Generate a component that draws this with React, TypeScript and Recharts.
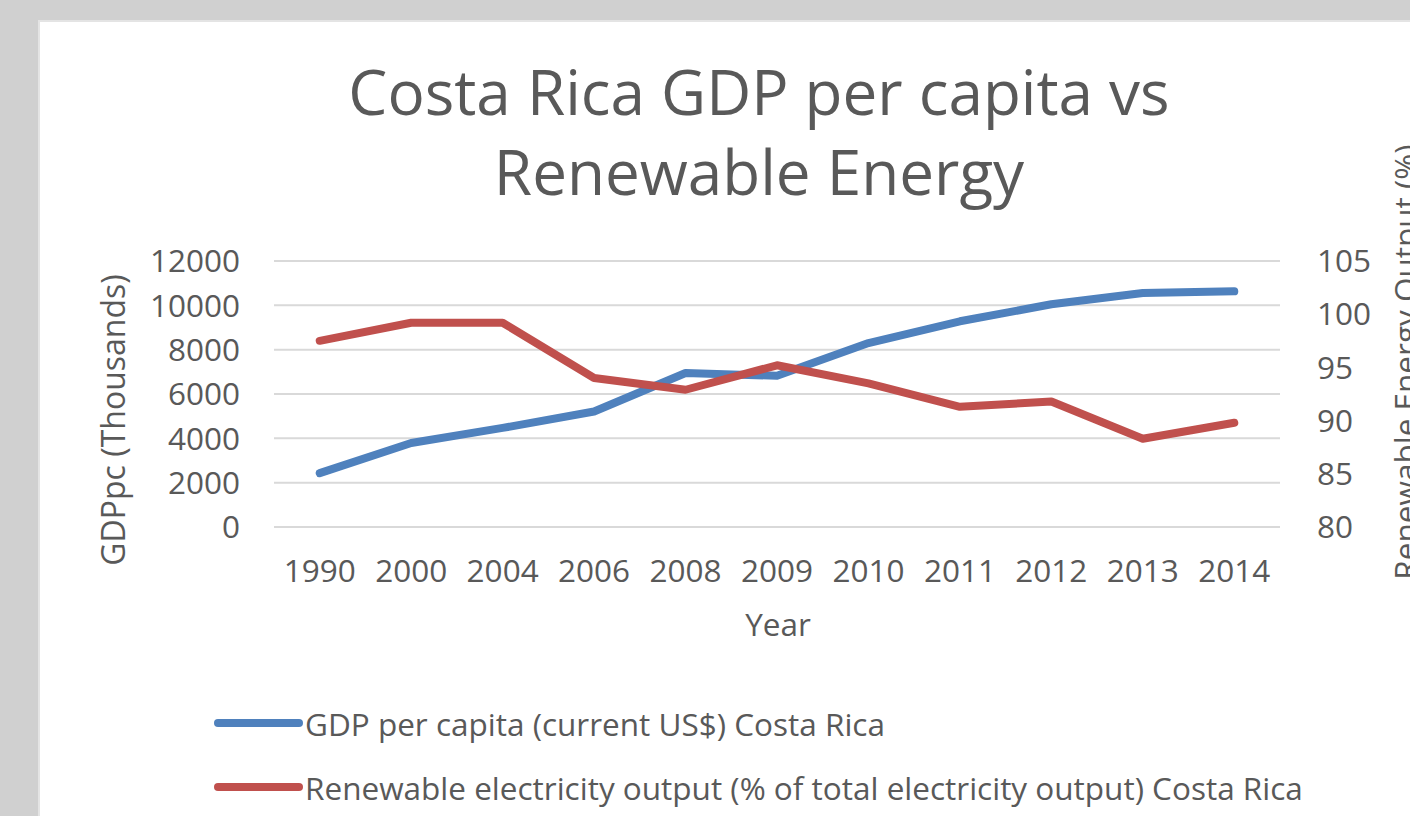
import React from 'react';
import { LineChart, Line, XAxis, YAxis, CartesianGrid, Legend } from 'recharts';

const years = ['1990', '2000', '2004', '2006', '2008', '2009', '2010', '2011', '2012', '2013', '2014'];
const gdpPerCapita = [2430, 3790, 4470, 5210, 6950, 6820, 8300, 9280, 10050, 10560, 10630];
const renewableOutput = [97.5, 99.2, 99.2, 94.0, 92.9, 95.2, 93.5, 91.3, 91.8, 88.3, 89.8];
const leftTicks = [0, 2000, 4000, 6000, 8000, 10000, 12000];
const rightTicks = [80, 85, 90, 95, 100, 105];

const GDP_NAME = 'GDP per capita (current US$) Costa Rica';
const REN_NAME = 'Renewable electricity output (% of total electricity output) Costa Rica';

const data = years.map((year, idx) => ({
  idx,
  year,
  gdp: gdpPerCapita[idx],
  ren: renewableOutput[idx],
}));

const labelTicks = years.map((_, i) => i);
const boundaryTicks = years.map((_, i) => i - 0.5).concat([years.length - 0.5]);

const TEXT = '#595959';
const GRID = '#d9d9d9';
const BLUE = '#4f81bd';
const RED = '#c0504d';
const FONT = "'Open Sans', sans-serif";
const FS = 31.5;

const LegendContent = (props: any) => {
  const payload = props.payload || [];
  return (
    <div style={{ fontFamily: FONT }}>
      {payload.map((entry: any) => (
        <div
          key={entry.value}
          style={{ display: 'flex', alignItems: 'center', height: 64, whiteSpace: 'nowrap' }}
        >
          <svg width={90} height={12} style={{ display: 'block' }}>
            <line x1={5} y1={6} x2={86} y2={6} stroke={entry.color} strokeWidth={8} strokeLinecap="round" />
          </svg>
          <span style={{ fontSize: FS, color: TEXT, marginLeft: 2 }}>{entry.value}</span>
        </div>
      ))}
    </div>
  );
};

export default function App() {
  return (
    <div
      style={{
        position: 'absolute',
        left: 0,
        top: 0,
        width: 1410,
        height: 816,
        overflow: 'hidden',
        background: '#d0d0d0',
        fontFamily: FONT,
      }}
    >
      <div
        style={{
          position: 'absolute',
          left: 38,
          top: 20,
          width: 1420,
          height: 840,
          background: '#ffffff',
          border: '2px solid #e4e4e4',
          boxSizing: 'border-box',
        }}
      />
      <div
        style={{
          position: 'absolute',
          left: 259,
          top: 51,
          width: 1000,
          textAlign: 'center',
          fontSize: 62,
          lineHeight: '80px',
          color: TEXT,
          whiteSpace: 'nowrap',
        }}
      >
        Costa Rica GDP per capita vs
        <br />
        Renewable Energy
      </div>
      <div
        style={{
          position: 'absolute',
          left: 113,
          top: 420,
          transform: 'translate(-50%, -50%) rotate(-90deg)',
          fontSize: 32,
          lineHeight: '32px',
          color: TEXT,
          whiteSpace: 'nowrap',
        }}
      >
        GDPpc (Thousands)
      </div>
      <div
        style={{
          position: 'absolute',
          left: 1405,
          top: 362,
          transform: 'translate(-50%, -50%) rotate(-90deg)',
          fontSize: FS,
          lineHeight: '30px',
          color: TEXT,
          whiteSpace: 'nowrap',
        }}
      >
        Renewable Energy Output (%)
      </div>
      <div
        style={{
          position: 'absolute',
          left: 678,
          top: 609,
          width: 200,
          textAlign: 'center',
          fontSize: FS,
          lineHeight: '30px',
          color: TEXT,
        }}
      >
        Year
      </div>
      <div style={{ position: 'absolute', left: 0, top: 0 }}>
        <LineChart
          width={1410}
          height={816}
          data={data}
          margin={{ top: 261, right: 0, bottom: 229, left: 0 }}
        >
          <CartesianGrid yAxisId="left" xAxisId="labels" vertical={false} stroke={GRID} strokeWidth={2} />
          <XAxis
            xAxisId="ticks"
            type="number"
            dataKey="idx"
            domain={[-0.5, 10.5]}
            ticks={boundaryTicks}
            tickFormatter={() => ''}
            height={0}
            axisLine={{ stroke: GRID, strokeWidth: 2 }}
            tickLine={{ stroke: GRID, strokeWidth: 2 }}
            tickSize={10}
            interval={0}
          />
          <XAxis
            xAxisId="labels"
            type="number"
            dataKey="idx"
            domain={[-0.5, 10.5]}
            ticks={labelTicks}
            tickFormatter={(v: number) => years[v]}
            height={60}
            axisLine={false}
            tickLine={false}
            tickSize={0}
            tickMargin={33}
            interval={0}
            tick={{ fill: TEXT, fontSize: FS, fontFamily: FONT }}
          />
          <YAxis
            yAxisId="left"
            orientation="left"
            width={274}
            domain={[0, 12000]}
            ticks={leftTicks}
            axisLine={false}
            tickLine={false}
            tickSize={0}
            tickMargin={34}
            interval={0}
            tick={{ fill: TEXT, fontSize: FS, fontFamily: FONT }}
          />
          <YAxis
            yAxisId="right"
            orientation="right"
            width={130}
            domain={[80, 105]}
            ticks={rightTicks}
            axisLine={false}
            tickLine={false}
            tickSize={0}
            tickMargin={37}
            interval={0}
            tick={{ fill: TEXT, fontSize: FS, fontFamily: FONT, textAnchor: 'start' }}
          />
          <Legend
            layout="vertical"
            align="center"
            verticalAlign="middle"
            content={<LegendContent />}
            wrapperStyle={{ left: 213, top: 691, width: 1190, height: 130 }}
          />
          <Line
            xAxisId="labels"
            yAxisId="left"
            type="linear"
            dataKey="gdp"
            name={GDP_NAME}
            stroke={BLUE}
            strokeWidth={8}
            strokeLinecap="round"
            strokeLinejoin="round"
            dot={false}
            activeDot={false}
            isAnimationActive={false}
          />
          <Line
            xAxisId="labels"
            yAxisId="right"
            type="linear"
            dataKey="ren"
            name={REN_NAME}
            stroke={RED}
            strokeWidth={8}
            strokeLinecap="round"
            strokeLinejoin="round"
            dot={false}
            activeDot={false}
            isAnimationActive={false}
          />
        </LineChart>
      </div>
    </div>
  );
}
